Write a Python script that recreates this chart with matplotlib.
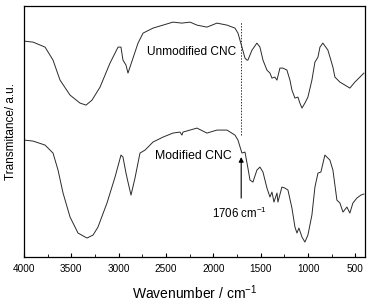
import matplotlib
matplotlib.use("Agg")
import matplotlib.pyplot as plt
from matplotlib.ticker import MultipleLocator

plt.rcParams["font.family"] = ["Liberation Sans", "DejaVu Sans"]
plt.rcParams["mathtext.default"] = "regular"

# unmodified CNC (upper trace), transmittance in arbitrary units
wn_top = [4000, 3905, 3778, 3694, 3620, 3514, 3409, 3345, 3282, 3197, 3092, 3007, 2976, 2955,
          2923, 2902, 2849, 2796, 2743, 2638, 2532, 2427, 2332, 2247, 2173, 2068, 1962, 1856,
          1772, 1740, 1698, 1666, 1645, 1635, 1592, 1540, 1508, 1476, 1434, 1402, 1381, 1350,
          1328, 1297, 1265, 1223, 1191, 1170, 1138, 1107, 1086, 1064, 1033, 1001, 959, 927,
          895, 874, 843, 790, 737, 716, 663, 610, 558, 505, 452, 410]
t_top = [216, 215, 210, 197, 177, 162, 154, 152, 157, 170, 194, 210, 210, 197,
         192, 184, 199, 214, 224, 229, 232, 235, 234, 235, 232, 230, 234, 232,
         229, 224, 210, 199, 197, 197, 207, 214, 210, 197, 187, 184, 179, 180,
         177, 189, 189, 187, 177, 167, 159, 160, 154, 149, 154, 160, 177, 195,
         200, 210, 214, 207, 190, 180, 175, 172, 169, 175, 180, 184]

# modified CNC (lower trace)
wn_bot = [4000, 3905, 3778, 3694, 3641, 3588, 3514, 3430, 3335, 3271, 3219, 3124, 3039, 2976,
          2955, 2923, 2902, 2870, 2828, 2786, 2775, 2722, 2638, 2532, 2427, 2353, 2332, 2321,
          2247, 2173, 2068, 1962, 1856, 1772, 1740, 1708, 1698, 1666, 1635, 1613, 1582, 1540,
          1508, 1476, 1434, 1402, 1381, 1360, 1328, 1318, 1276, 1244, 1212, 1170, 1138, 1117,
          1096, 1064, 1033, 1001, 959, 927, 895, 864, 822, 769, 737, 695, 663, 631, 589, 558,
          526, 484, 441, 410]
t_bot = [117, 116, 112, 104, 87, 64, 40, 24, 19, 22, 30, 54, 80, 102,
         100, 84, 75, 62, 79, 99, 104, 107, 115, 120, 124, 125, 122, 125,
         127, 129, 124, 127, 127, 122, 117, 107, 104, 105, 89, 77, 75, 87,
         90, 85, 69, 60, 65, 55, 64, 55, 70, 69, 67, 49, 30, 24,
         29, 20, 15, 22, 42, 70, 84, 85, 102, 97, 87, 57, 54, 45, 50, 44,
         54, 59, 62, 63]

fig = plt.figure(figsize=(3.70, 3.06), dpi=100)
ax = fig.add_axes([0.065, 0.160, 0.921, 0.820])

ax.plot(wn_top, t_top, color="#2a2a2a", lw=0.7)
ax.plot(wn_bot, t_bot, color="#2a2a2a", lw=0.7)

ax.plot([1706, 1706], [122, 235], color="#333333", lw=0.7, ls=(0, (1.5, 1.5)))
ax.annotate("", xy=(1706, 100), xytext=(1706, 59),
            arrowprops=dict(arrowstyle="-|>", color="black", lw=0.8,
                            mutation_scale=7, shrinkA=0, shrinkB=0))

ax.text(1760, 205, "Unmodified CNC", fontsize=8.6, ha="right", va="center")
ax.text(1810, 101, "Modified CNC", fontsize=8.8, ha="right", va="center")
ax.text(1719, 44, "1706 cm$^{-1}$", fontsize=8.3, ha="center", va="center")

ax.set_xlim(4000, 400)
ax.set_ylim(0, 251)
ax.xaxis.set_major_locator(MultipleLocator(500))
ax.xaxis.set_minor_locator(MultipleLocator(250))
ax.tick_params(axis="x", which="both", direction="in", labelsize=7.2, pad=5)
ax.tick_params(axis="x", which="major", length=3)
ax.tick_params(axis="x", which="minor", length=2)
ax.set_yticks([])
for s in ax.spines.values():
    s.set_linewidth(0.9)

ax.set_xlabel("Wavenumber / cm$^{-1}$", fontsize=10, labelpad=7)
ax.set_ylabel("Transmitance/ a.u.", fontsize=8.5, labelpad=5)

fig.savefig("out.png", dpi=100)
